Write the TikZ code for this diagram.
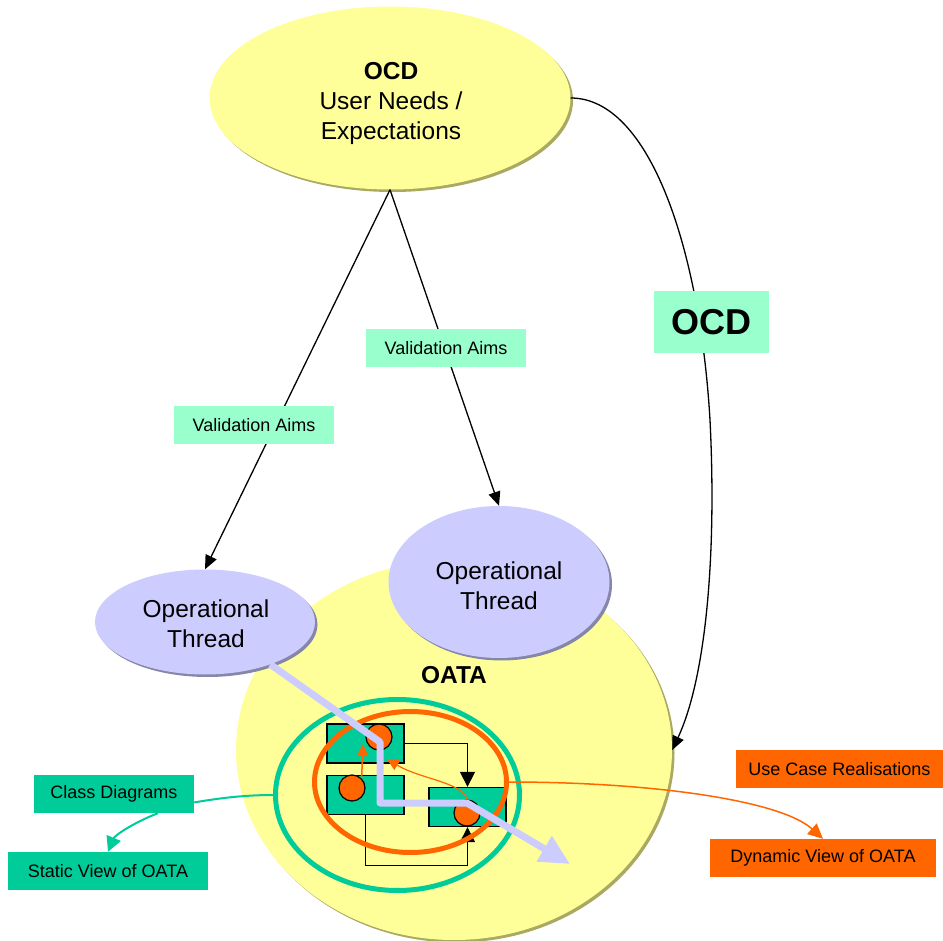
\documentclass[tikz,border=0pt]{standalone}
\usepackage{fontspec}
\setmainfont{Liberation Sans}
\usetikzlibrary{shapes.geometric,arrows.meta,shadows}

\definecolor{pale}{HTML}{FFFF99}
\definecolor{paleshade}{HTML}{A9A962}
\definecolor{lav}{HTML}{CCCCFF}
\definecolor{lavshade}{HTML}{8686A8}
\definecolor{seagreen}{HTML}{00CC99}
\definecolor{mint}{HTML}{99FFCC}
\definecolor{flame}{HTML}{FF6600}

\begin{document}
\begin{tikzpicture}[x=1pt,y=-1pt,
  blob/.style={ellipse, inner sep=0pt, align=center,
    font=\fontsize{24.5}{30}\selectfont},
  blobtext/.style={align=center, inner sep=0pt, font=\fontsize{24.5}{30}\selectfont},
  paleblob/.style={blob, fill=pale,
    drop shadow={shadow xshift=2.5pt, shadow yshift=-2.5pt, fill=paleshade, opacity=1}},
  lavblob/.style={blob, fill=lav,
    drop shadow={shadow xshift=2.5pt, shadow yshift=-2.5pt, fill=lavshade, opacity=1}},
  tag/.style={rectangle, inner sep=0pt, minimum height=38pt,
    font=\fontsize{18}{21}\selectfont},
  blk/.style={draw=black, line width=1.3pt, -{Triangle[length=14pt,width=12pt]}},
  cbox/.style={rectangle, draw=black, line width=1.3pt, fill=seagreen,
    minimum width=77pt, minimum height=39pt, inner sep=0pt},
  dot/.style={circle, draw=black, line width=1.2pt, fill=flame,
    minimum size=26pt, inner sep=0pt},
  smallarrow/.style={draw=flame, -{Triangle[length=12pt,width=11pt]}},
]
\fill[white] (0,0) rectangle (943,941);
\useasboundingbox (0,0) rectangle (943,941);

% main ellipses
\node[paleblob, minimum width=436pt, minimum height=380pt] (oata) at (454,750) {};
\node[font=\fontsize{24.5}{30}\selectfont\bfseries] (oatalbl) at (454,675) {OATA};
\node[lavblob, minimum width=220pt, minimum height=105pt] (opL) at (205,622) {};
\node[blobtext] (opLtext) at (206,624) {Operational\\Thread};
\node[lavblob, minimum width=221pt, minimum height=152pt] (opR) at (499,582) {};
\node[blobtext] (opRtext) at (499,586) {Operational\\Thread};
\node[paleblob, minimum width=361pt, minimum height=183pt] (ocd) at (390,98) {};
\node[blobtext] (ocdtext) at (391,103) {\textbf{OCD}\\User Needs /\\Expectations};

% validation aims
\draw[blk] (ocd.south) -- (opL.north);
\draw[blk] (ocd.south) -- (opR.north);
\node[tag, fill=mint, minimum width=160pt] (va1) at (254,425) {Validation Aims};
\node[tag, fill=mint, minimum width=160pt] (va2) at (446,348) {Validation Aims};

% OCD feed into OATA
\draw[blk] (ocd.east) .. controls (650,98) and (700,250) .. (710,420)
  .. controls (717,560) and (705,680) .. (oata.east);
\node[rectangle, fill=mint, inner sep=0pt, minimum width=115pt, minimum height=62pt,
  font=\fontsize{36}{40}\selectfont\bfseries] (ocdtag) at (711,322) {OCD};

% static view ring
\node[ellipse, draw=seagreen, line width=5pt, minimum width=244pt, minimum height=191pt,
  inner sep=0pt] (ring) at (397.5,795) {};

% classes
\node[cbox] (bA) at (365.5,743.5) {};
\node[cbox] (bB) at (365.5,795) {};
\node[cbox] (bC) at (467.5,807) {};
\draw[blk, line width=1.2pt, -{Triangle[length=15pt,width=15pt]}] (bA.east) -| (bC.north);
\draw[blk, line width=1.2pt, -{Triangle[length=15pt,width=15pt]}] (bB.south) -- ++(0,50) -| (bC.south);

% dynamic view ring
\node[ellipse, draw=flame, line width=5pt, minimum width=192pt, minimum height=141pt,
  inner sep=0pt] (oring) at (410.5,782) {};

\node[dot] (cA) at (379,737) {};
\node[dot] (cB) at (352,788) {};
\node[dot] (cC) at (467,813) {};
\coordinate (tA) at (363,744);
\coordinate (tB) at (387,759);
\draw[smallarrow, line width=1.5pt] (cB.north east) -- (tA);
\draw[smallarrow, line width=1.2pt] (cC.north) .. controls (462,782) and (420,779) .. (tB);

% operational thread path
\coordinate (lavtip) at (570,864);
\draw[lav, line width=7pt, line join=round, -{Triangle[length=30pt,width=28pt]}]
  (opL.-33) -- (380,742) -- (380,803) -- (467,803) -- (lavtip);

% views
\node[tag, fill=seagreen, minimum width=160pt] (cls) at (114,794) {Class Diagrams};
\node[tag, fill=seagreen, minimum width=200pt] (st) at (108,871) {Static View of OATA};
\node[tag, fill=flame, minimum width=207pt] (uc) at (839.5,769) {Use Case Realisations};
\node[tag, fill=flame, minimum width=226pt] (dyn) at (823,858) {Dynamic View of OATA};

\draw[seagreen, line width=2pt] (ring.west) .. controls (245,795) and (220,798) .. (cls.-6);
\draw[seagreen, line width=2pt, -{Triangle[length=15pt,width=15pt]}]
  ([xshift=44pt]cls.south) .. controls (135,822) and (115,835) .. (st.north);
\draw[flame, line width=1.5pt, -{Triangle[length=15pt,width=14pt]}]
  (oring.east) .. controls (650,782) and (780,800) .. (dyn.north);
\end{tikzpicture}
\end{document}
